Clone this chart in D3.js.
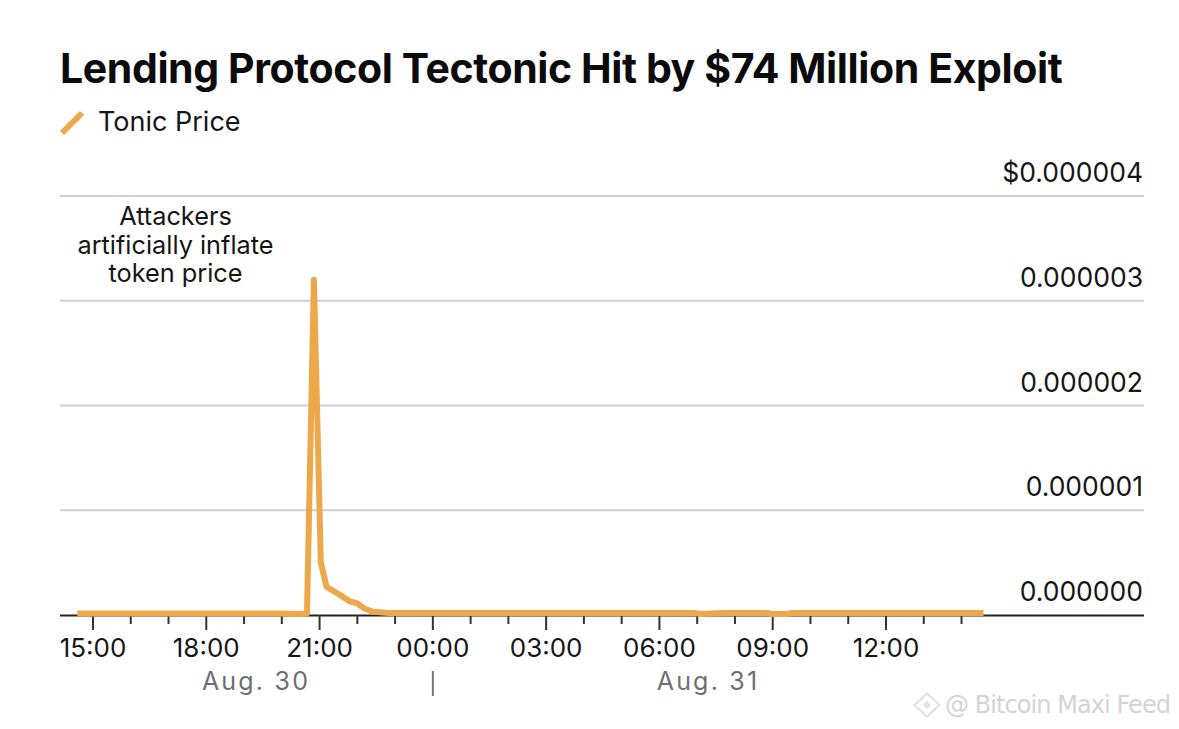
<!DOCTYPE html>
<html>
<head>
<meta charset="utf-8">
<script src="https://cdn.jsdelivr.net/npm/d3@7"></script>
<style>
  html, body { margin: 0; padding: 0; background: #fff; }
  text { font-family: "Inter", "Liberation Sans", sans-serif; }
</style>
</head>
<body>
<div id="chart"></div>
<script>
var times = [
  "2022-08-30T14:35", "2022-08-30T17:00", "2022-08-30T20:00", "2022-08-30T20:25",
  "2022-08-30T20:40", "2022-08-30T20:51", "2022-08-30T21:02", "2022-08-30T21:11",
  "2022-08-30T21:30", "2022-08-30T21:48", "2022-08-30T22:00", "2022-08-30T22:12",
  "2022-08-30T22:25", "2022-08-30T22:50", "2022-08-31T00:00", "2022-08-31T03:00",
  "2022-08-31T06:55", "2022-08-31T07:05", "2022-08-31T07:40", "2022-08-31T08:50",
  "2022-08-31T09:00", "2022-08-31T09:25", "2022-08-31T09:30", "2022-08-31T12:00",
  "2022-08-31T14:35"
];
var prices = [
  0.000000015, 0.000000015, 0.000000015, 0.000000010,
  0.000000015, 0.00000320, 0.00000050, 0.00000027,
  0.00000020, 0.00000013, 0.00000011, 0.00000006,
  0.00000003, 0.00000002, 0.00000002, 0.00000002,
  0.00000002, 0.00000001, 0.00000002, 0.00000002,
  0.00000001, 0.00000001, 0.00000002, 0.00000002,
  0.00000002
];
var yTicks = [0, 0.000001, 0.000002, 0.000003, 0.000004];
var yLabels = ["0.000000", "0.000001", "0.000002", "0.000003", "$0.000004"];
var majorTicks = ["2022-08-30T15:00", "2022-08-30T18:00", "2022-08-30T21:00", "2022-08-31T00:00",
  "2022-08-31T03:00", "2022-08-31T06:00", "2022-08-31T09:00", "2022-08-31T12:00"];
var minorEnd = "2022-08-31T14:00";
var annotation = ["Attackers", "artificially inflate", "token price"];
var orange = "#eda84b";

var width = 1179,
    height = 729,
    axisLeft = 60,
    axisRight = 1144;

var fmt = d3.timeFormat("%H:%M");
var table = times.map(function(t, i) { return {t: new Date(t), v: prices[i]}; });

var svg = d3.select("#chart").append("svg")
    .attr("width", width)
    .attr("height", height)
    .style("display", "block");

var x = d3.scaleTime()
    .domain([new Date(majorTicks[0]), new Date(majorTicks[7])])
    .range([93, 886]);
var y = d3.scaleLinear().domain([0, 0.000004]).range([615, 196]);

svg.append("text").attr("x", 60).attr("y", 83)
    .attr("font-size", 41).attr("font-weight", 700).attr("fill", "#0b0b0b")
    .attr("letter-spacing", -0.4)
    .text("Lending Protocol Tectonic Hit by $74 Million Exploit");

svg.append("line").attr("x1", 62).attr("x2", 82).attr("y1", 133).attr("y2", 113)
    .attr("stroke", orange).attr("stroke-width", 6);
svg.append("text").attr("x", 98).attr("y", 131)
    .attr("font-size", 27).attr("fill", "#161616").text("Tonic Price");

// grid lines and right hand labels
svg.append("g").selectAll("line")
    .data(yTicks.slice(1))
    .enter().append("line")
    .attr("x1", axisLeft).attr("x2", axisRight)
    .attr("y1", function(d) { return y(d); })
    .attr("y2", function(d) { return y(d); })
    .attr("stroke", "#cfcfcf").attr("stroke-width", 2);

svg.append("g").selectAll("text")
    .data(yTicks)
    .enter().append("text")
    .attr("x", 1143)
    .attr("y", function(d) { return y(d) - 14; })
    .attr("text-anchor", "end")
    .attr("font-size", 26.5).attr("fill", "#161616")
    .text(function(d, i) { return yLabels[i]; });

// time axis
var hourly = d3.timeHour.range(new Date(majorTicks[0]), d3.timeHour.offset(new Date(minorEnd), 1));
var isMajor = function(d) { return majorTicks.indexOf(d3.timeFormat("%Y-%m-%dT%H:%M")(d)) >= 0; };

svg.append("line").attr("x1", axisLeft).attr("x2", axisRight)
    .attr("y1", 615.5).attr("y2", 615.5)
    .attr("stroke", "#222").attr("stroke-width", 2);

svg.append("g").selectAll("line")
    .data(hourly)
    .enter().append("line")
    .attr("x1", function(d) { return x(d); })
    .attr("x2", function(d) { return x(d); })
    .attr("y1", 615)
    .attr("y2", function(d) { return isMajor(d) ? 630 : 624; })
    .attr("stroke", "#333").attr("stroke-width", 2);

svg.append("g").selectAll("text")
    .data(majorTicks.map(function(d) { return new Date(d); }))
    .enter().append("text")
    .attr("x", function(d) { return x(d); })
    .attr("y", 657)
    .attr("text-anchor", "middle")
    .attr("font-size", 26).attr("fill", "#161616")
    .text(function(d) { return fmt(d); });

svg.append("text").attr("x", 256).attr("y", 690).attr("text-anchor", "middle")
    .attr("font-size", 25).attr("letter-spacing", 2.2).attr("fill", "#6f6f6f").text("Aug. 30");
svg.append("text").attr("x", 708).attr("y", 690).attr("text-anchor", "middle")
    .attr("font-size", 25).attr("letter-spacing", 2.2).attr("fill", "#6f6f6f").text("Aug. 31");
svg.append("line")
    .attr("x1", x(new Date(majorTicks[3]))).attr("x2", x(new Date(majorTicks[3])))
    .attr("y1", 671).attr("y2", 696)
    .attr("stroke", "#777").attr("stroke-width", 2);

// price line
var line = d3.line()
    .x(function(d) { return x(d.t); })
    .y(function(d) { return y(d.v); });

svg.append("path").datum(table)
    .attr("d", line)
    .attr("fill", "none")
    .attr("stroke", orange)
    .attr("stroke-width", 6)
    .attr("stroke-linejoin", "round");

svg.append("g").selectAll("text")
    .data(annotation)
    .enter().append("text")
    .attr("x", 175.5)
    .attr("y", function(d, i) { return 225 + i * 28.5; })
    .attr("text-anchor", "middle")
    .attr("font-size", 25.3).attr("fill", "#161616")
    .text(function(d) { return d; });

// watermark
svg.append("text").attr("x", 945).attr("y", 713)
    .attr("font-size", 24).attr("fill", "#d4d4d4")
    .style("font-family", "'DejaVu Sans', sans-serif")
    .attr("textLength", 226)
    .text("@ Bitcoin Maxi Feed");
svg.append("path")
    .attr("d", "M927,692 L941,705 L927,718 L913,705 Z M927,695 L916,705 L927,715 L938,705 Z M927,701 L931,705 L927,709 L923,705 Z")
    .attr("fill", "#e2e2e2").attr("fill-rule", "evenodd");
</script>
</body>
</html>
